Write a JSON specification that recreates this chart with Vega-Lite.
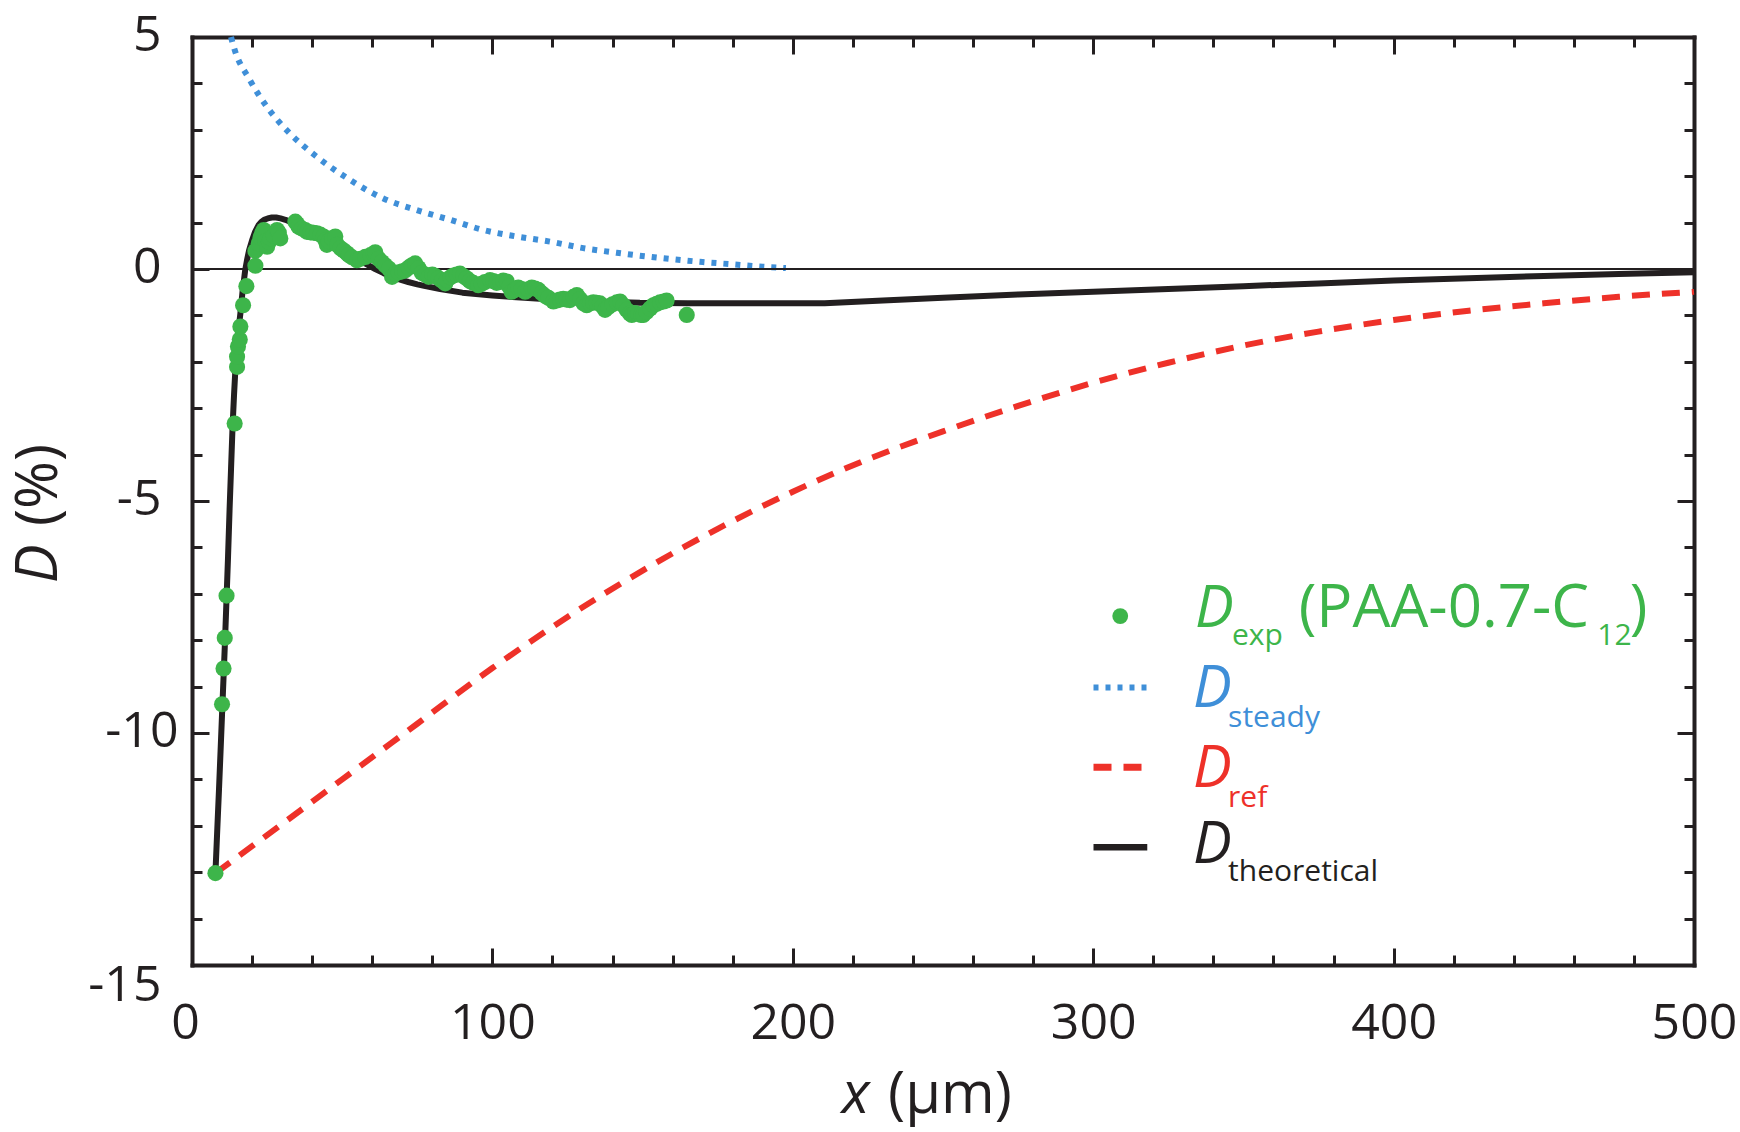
{
  "$schema": "https://vega.github.io/schema/vega-lite/v6.json",
  "autosize": {"type": "none"},
  "width": 1502,
  "height": 928,
  "padding": {"left": 192, "top": 37, "right": 46, "bottom": 167},
  "background": "white",
  "config": {"view": {"stroke": null}},
  "data": {"values": [{}]},
  "datasets": {
    "measured": [
      {"x_um": 7.8, "D_pct": -13.02}, {"x_um": 10.0, "D_pct": -9.38}, {"x_um": 10.5, "D_pct": -8.61},
      {"x_um": 10.9, "D_pct": -7.95}, {"x_um": 11.5, "D_pct": -7.04}, {"x_um": 14.2, "D_pct": -3.33},
      {"x_um": 15.0, "D_pct": -2.11}, {"x_um": 15.0, "D_pct": -1.89}, {"x_um": 15.3, "D_pct": -1.67},
      {"x_um": 15.9, "D_pct": -1.52}, {"x_um": 16.1, "D_pct": -1.24}, {"x_um": 17.0, "D_pct": -0.78},
      {"x_um": 18.1, "D_pct": -0.37}, {"x_um": 21.1, "D_pct": 0.07}, {"x_um": 21.1, "D_pct": 0.39},
      {"x_um": 22.2, "D_pct": 0.55}, {"x_um": 22.8, "D_pct": 0.68}, {"x_um": 23.3, "D_pct": 0.77},
      {"x_um": 23.9, "D_pct": 0.84}, {"x_um": 24.4, "D_pct": 0.6}, {"x_um": 25.0, "D_pct": 0.48},
      {"x_um": 25.6, "D_pct": 0.58}, {"x_um": 26.1, "D_pct": 0.66}, {"x_um": 27.2, "D_pct": 0.72},
      {"x_um": 28.3, "D_pct": 0.84}, {"x_um": 28.9, "D_pct": 0.78}, {"x_um": 29.4, "D_pct": 0.66},
      {"x_um": 34.4, "D_pct": 1.02}, {"x_um": 35.0, "D_pct": 0.97}, {"x_um": 35.5, "D_pct": 0.91},
      {"x_um": 36.6, "D_pct": 0.87}, {"x_um": 37.7, "D_pct": 0.84}, {"x_um": 38.3, "D_pct": 0.8},
      {"x_um": 39.4, "D_pct": 0.79}, {"x_um": 40.5, "D_pct": 0.78}, {"x_um": 41.6, "D_pct": 0.77},
      {"x_um": 42.7, "D_pct": 0.74}, {"x_um": 43.8, "D_pct": 0.7}, {"x_um": 44.4, "D_pct": 0.62},
      {"x_um": 44.9, "D_pct": 0.52}, {"x_um": 45.5, "D_pct": 0.6}, {"x_um": 46.6, "D_pct": 0.66},
      {"x_um": 47.7, "D_pct": 0.7}, {"x_um": 48.3, "D_pct": 0.52}, {"x_um": 49.4, "D_pct": 0.45},
      {"x_um": 50.5, "D_pct": 0.4}, {"x_um": 51.6, "D_pct": 0.34}, {"x_um": 52.2, "D_pct": 0.3},
      {"x_um": 53.3, "D_pct": 0.25}, {"x_um": 54.9, "D_pct": 0.19}, {"x_um": 56.0, "D_pct": 0.22},
      {"x_um": 57.7, "D_pct": 0.26}, {"x_um": 59.4, "D_pct": 0.3}, {"x_um": 60.5, "D_pct": 0.33},
      {"x_um": 61.0, "D_pct": 0.36}, {"x_um": 62.1, "D_pct": 0.22}, {"x_um": 63.2, "D_pct": 0.15},
      {"x_um": 64.3, "D_pct": 0.08}, {"x_um": 65.5, "D_pct": 0.01}, {"x_um": 66.6, "D_pct": -0.17},
      {"x_um": 67.7, "D_pct": -0.1}, {"x_um": 68.8, "D_pct": -0.07}, {"x_um": 70.0, "D_pct": -0.05},
      {"x_um": 71.0, "D_pct": -0.03}, {"x_um": 72.1, "D_pct": 0.03}, {"x_um": 73.2, "D_pct": 0.08},
      {"x_um": 74.3, "D_pct": 0.12}, {"x_um": 75.4, "D_pct": 0.02}, {"x_um": 76.5, "D_pct": -0.08},
      {"x_um": 77.6, "D_pct": -0.12}, {"x_um": 78.8, "D_pct": -0.17}, {"x_um": 80.0, "D_pct": -0.12},
      {"x_um": 81.0, "D_pct": -0.15}, {"x_um": 82.1, "D_pct": -0.2}, {"x_um": 83.2, "D_pct": -0.25},
      {"x_um": 84.3, "D_pct": -0.31}, {"x_um": 84.8, "D_pct": -0.24}, {"x_um": 86.0, "D_pct": -0.18},
      {"x_um": 87.0, "D_pct": -0.14}, {"x_um": 88.1, "D_pct": -0.12}, {"x_um": 89.2, "D_pct": -0.1},
      {"x_um": 90.3, "D_pct": -0.15}, {"x_um": 91.4, "D_pct": -0.2}, {"x_um": 92.5, "D_pct": -0.26},
      {"x_um": 93.6, "D_pct": -0.3}, {"x_um": 95.3, "D_pct": -0.35}, {"x_um": 96.4, "D_pct": -0.32},
      {"x_um": 97.5, "D_pct": -0.28}, {"x_um": 99.2, "D_pct": -0.24}, {"x_um": 100.3, "D_pct": -0.26},
      {"x_um": 101.4, "D_pct": -0.3}, {"x_um": 102.5, "D_pct": -0.28}, {"x_um": 103.6, "D_pct": -0.25},
      {"x_um": 104.8, "D_pct": -0.27}, {"x_um": 105.6, "D_pct": -0.38}, {"x_um": 106.4, "D_pct": -0.49},
      {"x_um": 107.5, "D_pct": -0.45}, {"x_um": 108.6, "D_pct": -0.4}, {"x_um": 109.7, "D_pct": -0.43},
      {"x_um": 110.9, "D_pct": -0.49}, {"x_um": 112.0, "D_pct": -0.44}, {"x_um": 113.1, "D_pct": -0.4},
      {"x_um": 114.2, "D_pct": -0.42}, {"x_um": 115.3, "D_pct": -0.45}, {"x_um": 116.4, "D_pct": -0.52},
      {"x_um": 117.5, "D_pct": -0.58}, {"x_um": 118.6, "D_pct": -0.62}, {"x_um": 120.3, "D_pct": -0.7},
      {"x_um": 121.4, "D_pct": -0.68}, {"x_um": 122.5, "D_pct": -0.66}, {"x_um": 123.6, "D_pct": -0.64},
      {"x_um": 124.7, "D_pct": -0.66}, {"x_um": 125.8, "D_pct": -0.67}, {"x_um": 127.0, "D_pct": -0.6},
      {"x_um": 128.1, "D_pct": -0.56}, {"x_um": 129.2, "D_pct": -0.65}, {"x_um": 130.3, "D_pct": -0.74},
      {"x_um": 131.4, "D_pct": -0.78}, {"x_um": 132.5, "D_pct": -0.74}, {"x_um": 133.6, "D_pct": -0.72},
      {"x_um": 134.7, "D_pct": -0.73}, {"x_um": 135.8, "D_pct": -0.74}, {"x_um": 136.6, "D_pct": -0.8},
      {"x_um": 137.5, "D_pct": -0.88}, {"x_um": 138.6, "D_pct": -0.82}, {"x_um": 140.0, "D_pct": -0.76},
      {"x_um": 141.4, "D_pct": -0.72}, {"x_um": 142.5, "D_pct": -0.7}, {"x_um": 143.6, "D_pct": -0.78},
      {"x_um": 144.7, "D_pct": -0.88}, {"x_um": 145.8, "D_pct": -0.96}, {"x_um": 146.4, "D_pct": -0.99},
      {"x_um": 147.5, "D_pct": -0.95}, {"x_um": 148.6, "D_pct": -0.97}, {"x_um": 149.5, "D_pct": -0.99},
      {"x_um": 150.2, "D_pct": -0.99}, {"x_um": 151.3, "D_pct": -0.93}, {"x_um": 152.5, "D_pct": -0.85},
      {"x_um": 153.6, "D_pct": -0.78}, {"x_um": 154.7, "D_pct": -0.75}, {"x_um": 155.8, "D_pct": -0.72},
      {"x_um": 157.0, "D_pct": -0.7}, {"x_um": 158.0, "D_pct": -0.68}, {"x_um": 164.7, "D_pct": -0.99}
    ],
    "theoretical": [
      {"x_um": 7.8, "D_pct": -13.02}, {"x_um": 8.5, "D_pct": -11.95}, {"x_um": 9.0, "D_pct": -11.2},
      {"x_um": 9.5, "D_pct": -10.4}, {"x_um": 10.0, "D_pct": -9.6}, {"x_um": 10.5, "D_pct": -8.8},
      {"x_um": 11.0, "D_pct": -8.0}, {"x_um": 11.5, "D_pct": -7.1}, {"x_um": 12.0, "D_pct": -6.2},
      {"x_um": 12.5, "D_pct": -5.2}, {"x_um": 13.0, "D_pct": -4.3}, {"x_um": 13.5, "D_pct": -3.4},
      {"x_um": 14.0, "D_pct": -2.7}, {"x_um": 14.5, "D_pct": -2.1}, {"x_um": 15.0, "D_pct": -1.65},
      {"x_um": 15.5, "D_pct": -1.3}, {"x_um": 16.1, "D_pct": -0.96}, {"x_um": 16.8, "D_pct": -0.5},
      {"x_um": 17.7, "D_pct": -0.03}, {"x_um": 18.4, "D_pct": 0.22}, {"x_um": 19.0, "D_pct": 0.4},
      {"x_um": 20.0, "D_pct": 0.62}, {"x_um": 21.0, "D_pct": 0.8}, {"x_um": 22.2, "D_pct": 0.95},
      {"x_um": 23.0, "D_pct": 1.01}, {"x_um": 24.0, "D_pct": 1.06}, {"x_um": 25.2, "D_pct": 1.09},
      {"x_um": 26.6, "D_pct": 1.11}, {"x_um": 28.0, "D_pct": 1.11}, {"x_um": 29.5, "D_pct": 1.09},
      {"x_um": 31.1, "D_pct": 1.06}, {"x_um": 33.0, "D_pct": 1.01}, {"x_um": 35.0, "D_pct": 0.96},
      {"x_um": 37.0, "D_pct": 0.9}, {"x_um": 38.8, "D_pct": 0.84}, {"x_um": 40.6, "D_pct": 0.77},
      {"x_um": 42.5, "D_pct": 0.7}, {"x_um": 44.5, "D_pct": 0.62}, {"x_um": 46.6, "D_pct": 0.55},
      {"x_um": 48.8, "D_pct": 0.46}, {"x_um": 51.0, "D_pct": 0.37}, {"x_um": 53.2, "D_pct": 0.28},
      {"x_um": 55.5, "D_pct": 0.19}, {"x_um": 58.2, "D_pct": 0.1}, {"x_um": 61.0, "D_pct": 0.0},
      {"x_um": 63.8, "D_pct": -0.09}, {"x_um": 66.6, "D_pct": -0.17}, {"x_um": 69.3, "D_pct": -0.23},
      {"x_um": 72.0, "D_pct": -0.28}, {"x_um": 75.0, "D_pct": -0.33}, {"x_um": 77.7, "D_pct": -0.37},
      {"x_um": 82.6, "D_pct": -0.43}, {"x_um": 90.0, "D_pct": -0.51}, {"x_um": 100.0, "D_pct": -0.57},
      {"x_um": 108.0, "D_pct": -0.61}, {"x_um": 115.8, "D_pct": -0.64}, {"x_um": 130.0, "D_pct": -0.69},
      {"x_um": 140.0, "D_pct": -0.71}, {"x_um": 149.1, "D_pct": -0.73}, {"x_um": 165.0, "D_pct": -0.74},
      {"x_um": 182.4, "D_pct": -0.74}, {"x_um": 210.6, "D_pct": -0.74}, {"x_um": 230.0, "D_pct": -0.68},
      {"x_um": 250.0, "D_pct": -0.62}, {"x_um": 275.0, "D_pct": -0.55}, {"x_um": 300.0, "D_pct": -0.49},
      {"x_um": 325.0, "D_pct": -0.43}, {"x_um": 350.0, "D_pct": -0.37}, {"x_um": 375.0, "D_pct": -0.31},
      {"x_um": 400.0, "D_pct": -0.25}, {"x_um": 425.0, "D_pct": -0.2}, {"x_um": 450.0, "D_pct": -0.15},
      {"x_um": 475.0, "D_pct": -0.11}, {"x_um": 500.0, "D_pct": -0.07}
    ],
    "steady": [
      {"x_um": 13.0, "D_pct": 5.0}, {"x_um": 13.7, "D_pct": 4.83}, {"x_um": 19.3, "D_pct": 4.07},
      {"x_um": 24.9, "D_pct": 3.5}, {"x_um": 32.6, "D_pct": 2.92}, {"x_um": 41.5, "D_pct": 2.42},
      {"x_um": 52.6, "D_pct": 1.92}, {"x_um": 63.7, "D_pct": 1.52}, {"x_um": 74.8, "D_pct": 1.27},
      {"x_um": 85.9, "D_pct": 1.06}, {"x_um": 97.0, "D_pct": 0.84}, {"x_um": 108.1, "D_pct": 0.7},
      {"x_um": 119.2, "D_pct": 0.59}, {"x_um": 130.3, "D_pct": 0.45}, {"x_um": 141.4, "D_pct": 0.35},
      {"x_um": 151.4, "D_pct": 0.27}, {"x_um": 160.2, "D_pct": 0.21}, {"x_um": 170.0, "D_pct": 0.15},
      {"x_um": 180.2, "D_pct": 0.1}, {"x_um": 190.0, "D_pct": 0.05}, {"x_um": 197.7, "D_pct": 0.02}
    ],
    "reference": [
      {"x_um": 7.8, "D_pct": -13.02}, {"x_um": 25, "D_pct": -12.2}, {"x_um": 50, "D_pct": -11.0},
      {"x_um": 75, "D_pct": -9.8}, {"x_um": 100, "D_pct": -8.6}, {"x_um": 125, "D_pct": -7.5},
      {"x_um": 150, "D_pct": -6.5}, {"x_um": 175, "D_pct": -5.6}, {"x_um": 200, "D_pct": -4.8},
      {"x_um": 225, "D_pct": -4.1}, {"x_um": 250, "D_pct": -3.5}, {"x_um": 275, "D_pct": -2.95},
      {"x_um": 300, "D_pct": -2.45}, {"x_um": 325, "D_pct": -2.02}, {"x_um": 350, "D_pct": -1.65},
      {"x_um": 375, "D_pct": -1.35}, {"x_um": 400, "D_pct": -1.1}, {"x_um": 425, "D_pct": -0.9},
      {"x_um": 450, "D_pct": -0.74}, {"x_um": 475, "D_pct": -0.6}, {"x_um": 500, "D_pct": -0.49}
    ]
  },
  "resolve": {"axis": {"x": "independent", "y": "independent"}},
  "layer": [
    {
      "data": {"name": "reference"},
      "mark": {"type": "line", "color": "#EE3129", "strokeWidth": 6, "strokeDash": [18, 12], "strokeCap": "butt", "interpolate": "monotone"},
      "encoding": {
        "x": {"field": "x_um", "type": "quantitative", "axis": null},
        "y": {"field": "D_pct", "type": "quantitative", "axis": null}
      }
    },
    {
      "data": {"name": "steady"},
      "mark": {"type": "line", "color": "#3F8FD8", "strokeWidth": 6, "strokeDash": [5, 7], "strokeCap": "butt", "interpolate": "monotone"},
      "encoding": {
        "x": {
          "field": "x_um", "type": "quantitative",
          "axis": {
            "orient": "top", "title": null, "labels": false, "grid": false,
            "values": [0, 20, 40, 60, 80, 100, 120, 140, 160, 180, 200, 220, 240, 260, 280, 300, 320, 340, 360, 380, 400, 420, 440, 460, 480, 500],
            "domainColor": "#231F20", "domainWidth": 4, "domainCap": "square",
            "tickColor": "#231F20", "tickWidth": 3,
            "tickSize": {"condition": {"test": "datum.value % 100 === 0", "value": -17}, "value": -10}
          }
        },
        "y": {
          "field": "D_pct", "type": "quantitative",
          "axis": {
            "orient": "right", "title": null, "labels": false, "grid": false,
            "values": [-15, -14, -13, -12, -11, -10, -9, -8, -7, -6, -5, -4, -3, -2, -1, 0, 1, 2, 3, 4, 5],
            "domainColor": "#231F20", "domainWidth": 4, "domainCap": "square",
            "tickColor": "#231F20", "tickWidth": 3,
            "tickSize": {"condition": {"test": "datum.value % 5 === 0", "value": -17}, "value": -10}
          }
        }
      }
    },
    {
      "mark": {"type": "rule", "color": "#231F20", "strokeWidth": 2},
      "encoding": {"y": {"datum": 0, "axis": null}}
    },
    {
      "data": {"name": "theoretical"},
      "mark": {"type": "line", "color": "#231F20", "strokeWidth": 6, "strokeJoin": "round"},
      "encoding": {
        "x": {
          "field": "x_um", "type": "quantitative",
          "scale": {"domain": [0, 500], "nice": false, "zero": false},
          "axis": {
            "orient": "bottom", "title": null, "grid": false,
            "values": [0, 20, 40, 60, 80, 100, 120, 140, 160, 180, 200, 220, 240, 260, 280, 300, 320, 340, 360, 380, 400, 420, 440, 460, 480, 500],
            "labelExpr": "datum.value % 100 === 0 ? '' + datum.value : ''",
            "labelFont": "Open Sans", "labelFontSize": 50, "labelColor": "#231F20",
            "labelFlush": false, "labelOverlap": false, "labelBound": false,
            "labelPadding": 50,
            "labelOffset": {"condition": {"test": "datum.value === 0", "value": -7}, "value": 0},
            "domainColor": "#231F20", "domainWidth": 4, "domainCap": "square",
            "tickColor": "#231F20", "tickWidth": 3,
            "tickSize": {"condition": {"test": "datum.value % 100 === 0", "value": -17}, "value": -10}
          }
        },
        "y": {
          "field": "D_pct", "type": "quantitative",
          "scale": {"domain": [-15, 5], "nice": false, "zero": false},
          "axis": {
            "orient": "left", "title": null, "grid": false,
            "values": [-15, -14, -13, -12, -11, -10, -9, -8, -7, -6, -5, -4, -3, -2, -1, 0, 1, 2, 3, 4, 5],
            "labelExpr": "datum.value % 5 === 0 ? '' + datum.value : ''",
            "labelFont": "Open Sans", "labelFontSize": 50, "labelColor": "#231F20",
            "labelFlush": false, "labelOverlap": false, "labelBound": false,
            "labelBaseline": "middle",
            "labelPadding": {"condition": {"test": "datum.value === -10", "value": 31}, "value": 48},
            "labelOffset": {"condition": {"test": "datum.value === -15", "value": 20}, "value": -2},
            "domainColor": "#231F20", "domainWidth": 4, "domainCap": "square",
            "tickColor": "#231F20", "tickWidth": 3,
            "tickSize": {"condition": {"test": "datum.value % 5 === 0", "value": -17}, "value": -10}
          }
        }
      }
    },
    {
      "data": {"name": "measured"},
      "mark": {"type": "point", "filled": true, "color": "#3DB54A", "opacity": 1, "size": 260},
      "encoding": {
        "x": {"field": "x_um", "type": "quantitative", "axis": null},
        "y": {"field": "D_pct", "type": "quantitative", "axis": null}
      }
    },
    {
      "mark": {"type": "point", "filled": true, "color": "#3DB54A", "opacity": 1, "size": 250},
      "encoding": {"x": {"datum": 309.0, "axis": null}, "y": {"datum": -7.48, "axis": null}}
    },
    {
      "mark": {"type": "rule", "color": "#3F8FD8", "strokeWidth": 6, "strokeDash": [5, 7], "strokeCap": "butt"},
      "encoding": {"x": {"datum": 300.1, "axis": null}, "x2": {"datum": 318.0}, "y": {"datum": -9.02, "axis": null}}
    },
    {
      "mark": {"type": "rule", "color": "#EE3129", "strokeWidth": 7, "strokeDash": [18, 12], "strokeCap": "butt"},
      "encoding": {"x": {"datum": 300.1, "axis": null}, "x2": {"datum": 316.6}, "y": {"datum": -10.74, "axis": null}}
    },
    {
      "mark": {"type": "rule", "color": "#231F20", "strokeWidth": 6.5, "strokeCap": "butt"},
      "encoding": {"x": {"datum": 300.1, "axis": null}, "x2": {"datum": 318.0}, "y": {"datum": -12.46, "axis": null}}
    },
    {
      "mark": {"type": "text", "text": "D", "font": "Open Sans", "fontStyle": "italic", "fontSize": 58, "color": "#3DB54A", "align": "left", "baseline": "alphabetic"},
      "encoding": {"x": {"datum": 333.9, "axis": null}, "y": {"datum": -7.71, "axis": null}}
    },
    {
      "mark": {"type": "text", "text": "exp", "font": "Open Sans", "fontSize": 30, "color": "#3DB54A", "align": "left", "baseline": "alphabetic"},
      "encoding": {"x": {"datum": 346.2, "axis": null}, "y": {"datum": -8.1, "axis": null}}
    },
    {
      "mark": {"type": "text", "text": "(PAA-0.7-C", "font": "Open Sans", "fontSize": 60, "color": "#3DB54A", "align": "left", "baseline": "alphabetic"},
      "encoding": {"x": {"datum": 368.4, "axis": null}, "y": {"datum": -7.71, "axis": null}}
    },
    {
      "mark": {"type": "text", "text": "12", "font": "Open Sans", "fontSize": 30, "color": "#3DB54A", "align": "left", "baseline": "alphabetic"},
      "encoding": {"x": {"datum": 467.8, "axis": null}, "y": {"datum": -8.1, "axis": null}}
    },
    {
      "mark": {"type": "text", "text": ")", "font": "Open Sans", "fontSize": 60, "color": "#3DB54A", "align": "left", "baseline": "alphabetic"},
      "encoding": {"x": {"datum": 478.6, "axis": null}, "y": {"datum": -7.71, "axis": null}}
    },
    {
      "mark": {"type": "text", "text": "D", "font": "Open Sans", "fontStyle": "italic", "fontSize": 58, "color": "#3F8FD8", "align": "left", "baseline": "alphabetic"},
      "encoding": {"x": {"datum": 333.2, "axis": null}, "y": {"datum": -9.43, "axis": null}}
    },
    {
      "mark": {"type": "text", "text": "steady", "font": "Open Sans", "fontSize": 30, "color": "#3F8FD8", "align": "left", "baseline": "alphabetic"},
      "encoding": {"x": {"datum": 344.9, "axis": null}, "y": {"datum": -9.86, "axis": null}}
    },
    {
      "mark": {"type": "text", "text": "D", "font": "Open Sans", "fontStyle": "italic", "fontSize": 58, "color": "#EE3129", "align": "left", "baseline": "alphabetic"},
      "encoding": {"x": {"datum": 333.2, "axis": null}, "y": {"datum": -11.16, "axis": null}}
    },
    {
      "mark": {"type": "text", "text": "ref", "font": "Open Sans", "fontSize": 30, "color": "#EE3129", "align": "left", "baseline": "alphabetic"},
      "encoding": {"x": {"datum": 344.9, "axis": null}, "y": {"datum": -11.59, "axis": null}}
    },
    {
      "mark": {"type": "text", "text": "D", "font": "Open Sans", "fontStyle": "italic", "fontSize": 58, "color": "#231F20", "align": "left", "baseline": "alphabetic"},
      "encoding": {"x": {"datum": 333.2, "axis": null}, "y": {"datum": -12.8, "axis": null}}
    },
    {
      "mark": {"type": "text", "text": "theoretical", "font": "Open Sans", "fontSize": 30, "color": "#231F20", "align": "left", "baseline": "alphabetic"},
      "encoding": {"x": {"datum": 344.9, "axis": null}, "y": {"datum": -13.2, "axis": null}}
    },
    {
      "mark": {"type": "text", "text": "x", "font": "Open Sans", "fontStyle": "italic", "fontSize": 58, "color": "#231F20", "align": "left", "baseline": "alphabetic"},
      "encoding": {"x": {"datum": 216.3, "axis": null}, "y": {"datum": -18.2, "axis": null}}
    },
    {
      "mark": {"type": "text", "text": "(µm)", "font": "Open Sans", "fontSize": 58, "color": "#231F20", "align": "left", "baseline": "alphabetic"},
      "encoding": {"x": {"datum": 231.7, "axis": null}, "y": {"datum": -18.2, "axis": null}}
    },
    {
      "mark": {"type": "text", "text": "D", "font": "Open Sans", "fontStyle": "italic", "fontSize": 58, "color": "#231F20", "align": "left", "baseline": "alphabetic", "angle": 270},
      "encoding": {"x": {"datum": -44.8, "axis": null}, "y": {"datum": -6.77, "axis": null}}
    },
    {
      "mark": {"type": "text", "text": "(%)", "font": "Open Sans", "fontSize": 58, "color": "#231F20", "align": "left", "baseline": "alphabetic", "angle": 270},
      "encoding": {"x": {"datum": -44.8, "axis": null}, "y": {"datum": -5.54, "axis": null}}
    }
  ]
}
